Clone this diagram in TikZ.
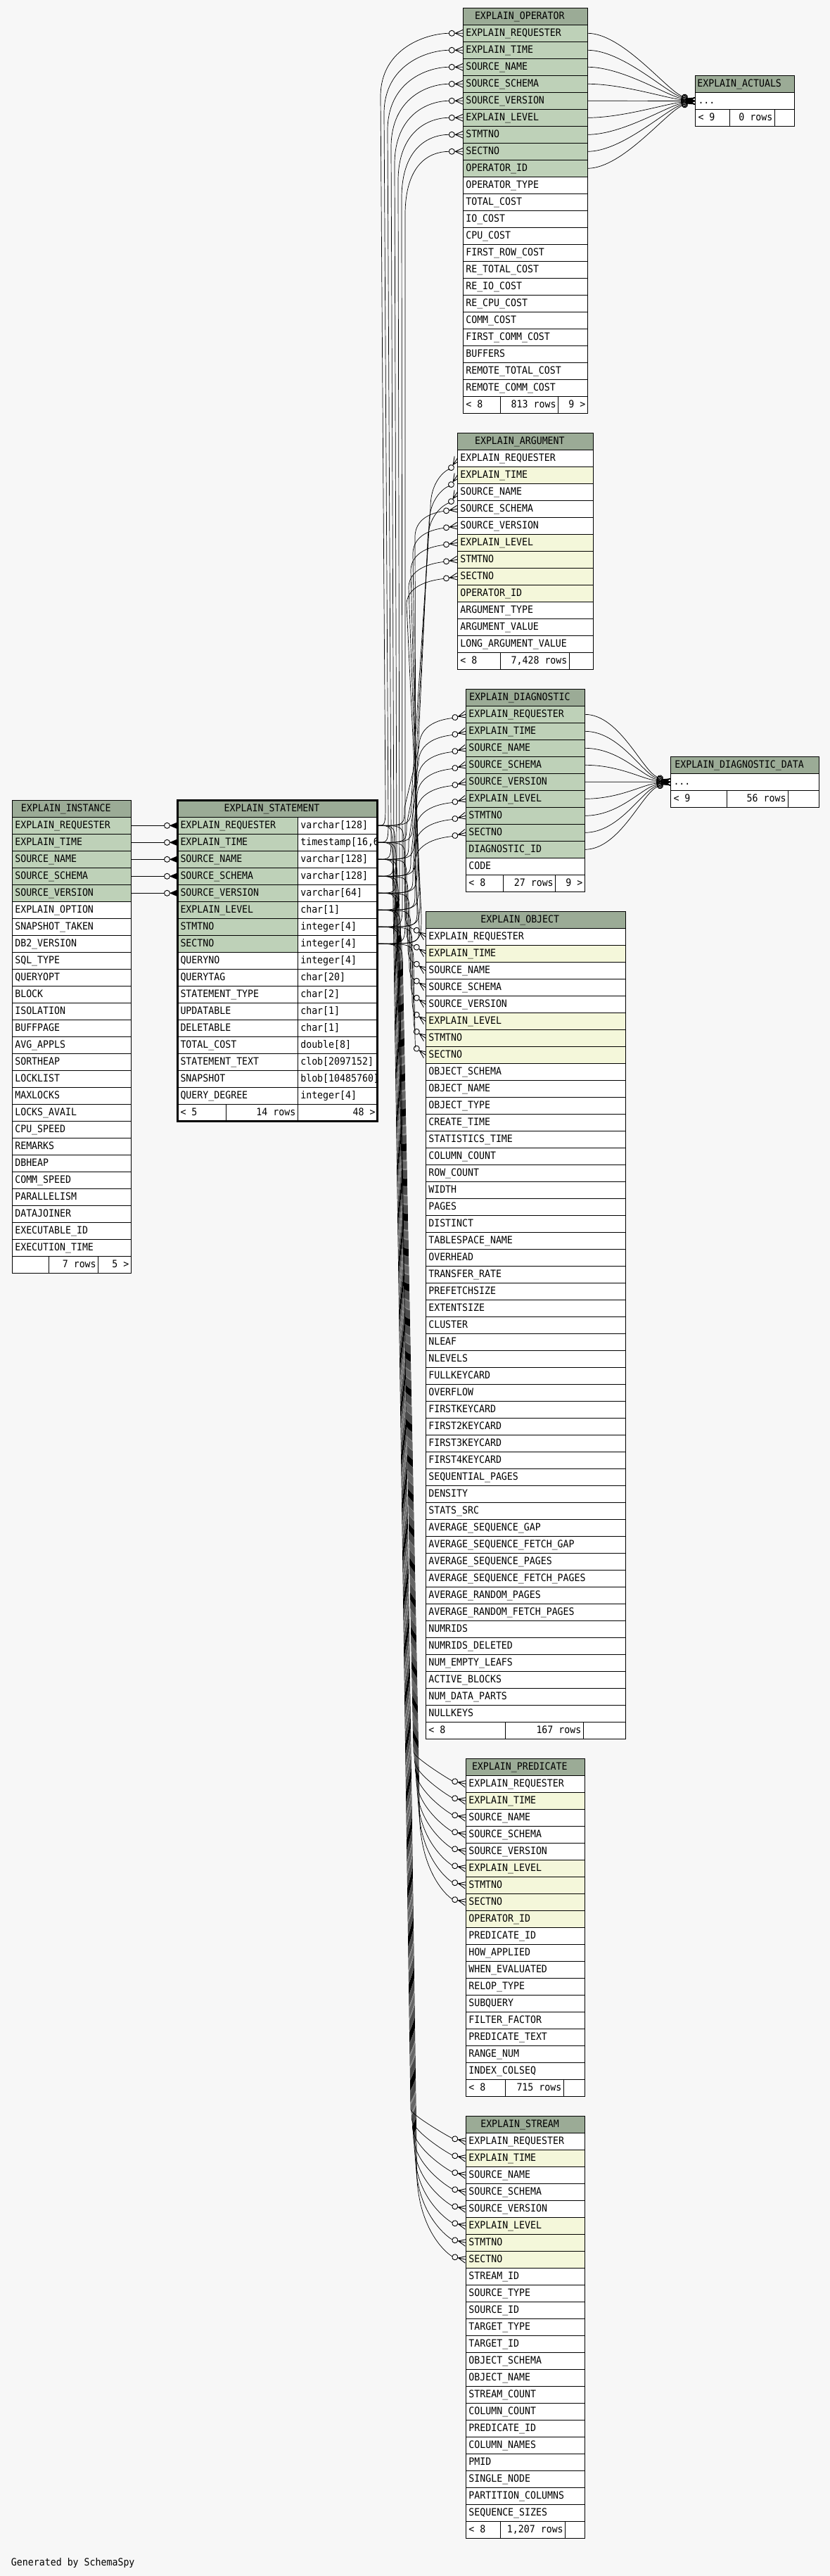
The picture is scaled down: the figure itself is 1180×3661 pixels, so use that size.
\documentclass[tikz,border=0pt]{standalone}
\usepackage{fontspec}
\newfontfamily\dbf[FakeStretch=0.92]{DejaVu Sans Mono}
\newcommand\dbfont{\dbf\fontsize{14.4pt}{16pt}\selectfont}
\usetikzlibrary{calc,arrows.meta}
\definecolor{hdrc}{HTML}{9BAB96}
\definecolor{pkc}{HTML}{BED1B8}
\definecolor{ixc}{HTML}{F4F7DA}
\definecolor{bgc}{HTML}{F7F7F7}
\pgfdeclarelayer{bgfill}
\pgfdeclarelayer{edges}
\pgfsetlayers{bgfill,edges,main}

\pgfdeclarearrow{
  name = crowo,
  parameters = {\the\pgflinewidth},
  setup code = {
    \pgfarrowssettipend{0pt}
    \pgfarrowssetbackend{-20pt}
    \pgfarrowssetlineend{-19.5pt}
    \pgfarrowsupperhullpoint{0pt}{5pt}
    \pgfarrowsupperhullpoint{-20pt}{4pt}
  },
  drawing code = {
    \pgfsetdash{}{0pt}
    \pgfsetroundjoin
    \pgfsetlinewidth{0.9pt}
    \pgfpathmoveto{\pgfqpoint{0pt}{5pt}}
    \pgfpathlineto{\pgfqpoint{-11pt}{0pt}}
    \pgfpathlineto{\pgfqpoint{0pt}{-5pt}}
    \pgfpathmoveto{\pgfqpoint{0pt}{0pt}}
    \pgfpathlineto{\pgfqpoint{-12pt}{0pt}}
    \pgfusepathqstroke
    \pgfpathcircle{\pgfqpoint{-16pt}{0pt}}{4pt}
    \pgfusepathqstroke
  }
}
\pgfdeclarearrow{
  name = crowof,
  parameters = {\the\pgflinewidth},
  setup code = {
    \pgfarrowssettipend{0pt}
    \pgfarrowssetbackend{-19pt}
    \pgfarrowssetlineend{-18.5pt}
    \pgfarrowsupperhullpoint{0pt}{5pt}
    \pgfarrowsupperhullpoint{-19pt}{4pt}
  },
  drawing code = {
    \pgfsetdash{}{0pt}
    \pgfsetlinewidth{0.9pt}
    \pgfsetfillcolor{black}
    \pgfpathmoveto{\pgfqpoint{0pt}{4.5pt}}
    \pgfpathlineto{\pgfqpoint{-10.5pt}{0pt}}
    \pgfpathlineto{\pgfqpoint{0pt}{-4.5pt}}
    \pgfpathclose
    \pgfusepathqfillstroke
    \pgfpathcircle{\pgfqpoint{-15pt}{0pt}}{4pt}
    \pgfusepathqstroke
  }
}

\tikzset{
  lbl/.style={font=\dbfont, inner sep=0pt, outer sep=0pt, text height=10.5pt, text depth=2pt},
  rowbox/.style={draw, line width=1pt, anchor=north west, minimum height=24pt,
    inner xsep=4pt, inner ysep=0pt, outer sep=0pt, text height=10.5pt, text depth=2pt,
    align=left, font=\dbfont},
  hdr/.style={draw, line width=1pt, fill=hdrc, anchor=north west, minimum height=24pt,
    inner sep=0pt, outer sep=0pt},
  fcell/.style={draw, line width=1pt, fill=white, anchor=north west, minimum height=24pt,
    inner sep=0pt, outer sep=0pt},
  fk/.style={draw, line width=0.7pt, -{crowo}},
  fkf/.style={draw, line width=0.8pt, -{crowof}},
}

% table: prefix, x, y, width, title, rows (text/colour)
\newcommand\mktable[6]{%
  \pgfmathsetmacro\tbw{#4-8}%
  \node[hdr, minimum width=#4pt] (#1-h) at (#2,#3) {};
  \node[lbl] (#1-ht) at ($(#1-h.center)+(-8,0)$) {#5};
  \foreach \rn/\rc [count=\ri from 0] in {#6}{%
    \node[rowbox, fill=\rc, minimum width=#4pt, text width=\tbw pt] (#1-\ri) at (#2,{#3+24*(\ri+1)}) {\rn};
  }%
}
% footer: prefix, x, y, width, split1, split2, left, middle, right
\newcommand\mkfoot[9]{%
  \pgfmathsetmacro\fwa{#5-#2}\pgfmathsetmacro\fwb{#6-#5}\pgfmathsetmacro\fwc{#2+#4-#6}%
  \node[fcell, minimum width=\fwa pt] (#1-fa) at (#2,#3) {};
  \node[fcell, minimum width=\fwb pt] (#1-fb) at (#5,#3) {};
  \node[fcell, minimum width=\fwc pt] (#1-fc) at (#6,#3) {};
  \node[lbl, anchor=west] (#1-fta) at ($(#1-fa.west)+(4,0)$) {#7};
  \node[lbl, anchor=east] (#1-ftb) at ($(#1-fb.east)+(-3,0)$) {#8};
  \node[lbl, anchor=east] (#1-ftc) at ($(#1-fc.east)+(-3,0)$) {#9};
}
% routed foreign key: src, dst, xa, dya(rel src), xb, dyb(rel dst), dyc(rel dst), dx, dy
\newcommand\fkroute[9]{%
  \draw[fk] let \p1=(#1.east), \p2=(#2.west) in
    (\p1) .. controls ({(#3)*1pt},\y1) .. ({(#3)*1pt},{\y1-(#4)*1pt})
    -- ({(#5)*1pt},{\y2-(#6)*1pt})
    .. controls ({(#5)*1pt},{\y2-(#7)*1pt}) and ({\x2-(#8)*1pt},{\y2-(#9)*1pt}) .. (\p2);
}
\def\tsv{timestamp[16,6]}
\def\tdots{...}

\begin{document}
\begin{tikzpicture}[x=1pt,y=-1pt]
\useasboundingbox (0,0) rectangle (1180,3661);
\begin{pgfonlayer}{bgfill}
\fill[bgc] (0,0) rectangle (1180,3661);
\end{pgfonlayer}

% ---------- EXPLAIN_OPERATOR
\mktable{op}{658.3}{11.3}{177}{EXPLAIN\_OPERATOR}{EXPLAIN\_REQUESTER/pkc, EXPLAIN\_TIME/pkc, SOURCE\_NAME/pkc, SOURCE\_SCHEMA/pkc, SOURCE\_VERSION/pkc, EXPLAIN\_LEVEL/pkc, STMTNO/pkc, SECTNO/pkc, OPERATOR\_ID/pkc, OPERATOR\_TYPE/white, TOTAL\_COST/white, IO\_COST/white, CPU\_COST/white, FIRST\_ROW\_COST/white, RE\_TOTAL\_COST/white, RE\_IO\_COST/white, RE\_CPU\_COST/white, COMM\_COST/white, FIRST\_COMM\_COST/white, BUFFERS/white, REMOTE\_TOTAL\_COST/white, REMOTE\_COMM\_COST/white}
\mkfoot{opf}{658.3}{563.3}{177}{711.4}{793.5}{< 8}{813 rows}{9 >}

% ---------- EXPLAIN_ACTUALS
\mktable{act}{988.5}{107.5}{141.3}{EXPLAIN\_ACTUALS}{\tdots/white}
\mkfoot{actf}{988.5}{155.5}{141.3}{1037.3}{1101.3}{< 9}{0 rows}{}

% ---------- EXPLAIN_ARGUMENT
\mktable{arg}{650.3}{615.3}{193.1}{EXPLAIN\_ARGUMENT}{EXPLAIN\_REQUESTER/white, EXPLAIN\_TIME/ixc, SOURCE\_NAME/white, SOURCE\_SCHEMA/white, SOURCE\_VERSION/white, EXPLAIN\_LEVEL/ixc, STMTNO/ixc, SECTNO/ixc, OPERATOR\_ID/ixc, ARGUMENT\_TYPE/white, ARGUMENT\_VALUE/white, LONG\_ARGUMENT\_VALUE/white}
\mkfoot{argf}{650.3}{927.3}{193.1}{711.4}{809.4}{< 8}{7,428 rows}{}

% ---------- EXPLAIN_DIAGNOSTIC
\mktable{dg}{662.3}{979.3}{169}{EXPLAIN\_DIAGNOSTIC}{EXPLAIN\_REQUESTER/pkc, EXPLAIN\_TIME/pkc, SOURCE\_NAME/pkc, SOURCE\_SCHEMA/pkc, SOURCE\_VERSION/pkc, EXPLAIN\_LEVEL/pkc, STMTNO/pkc, SECTNO/pkc, DIAGNOSTIC\_ID/pkc, CODE/white}
\mkfoot{dgf}{662.3}{1243.3}{169}{715.7}{789.7}{< 8}{27 rows}{9 >}

% ---------- EXPLAIN_DIAGNOSTIC_DATA
\mktable{dd}{953.5}{1075.3}{211.1}{EXPLAIN\_DIAGNOSTIC\_DATA}{\tdots/white}
\mkfoot{ddf}{953.5}{1123.3}{211.1}{1033.6}{1120.5}{< 9}{56 rows}{}

% ---------- EXPLAIN_INSTANCE
\mktable{i}{17.3}{1137.3}{169}{EXPLAIN\_INSTANCE}{EXPLAIN\_REQUESTER/pkc, EXPLAIN\_TIME/pkc, SOURCE\_NAME/pkc, SOURCE\_SCHEMA/pkc, SOURCE\_VERSION/pkc, EXPLAIN\_OPTION/white, SNAPSHOT\_TAKEN/white, DB2\_VERSION/white, SQL\_TYPE/white, QUERYOPT/white, BLOCK/white, ISOLATION/white, BUFFPAGE/white, AVG\_APPLS/white, SORTHEAP/white, LOCKLIST/white, MAXLOCKS/white, LOCKS\_AVAIL/white, CPU\_SPEED/white, REMARKS/white, DBHEAP/white, COMM\_SPEED/white, PARALLELISM/white, DATAJOINER/white, EXECUTABLE\_ID/white, EXECUTION\_TIME/white}
\mkfoot{if}{17.3}{1785.3}{169}{69.3}{139.7}{}{7 rows}{5 >}

% ---------- EXPLAIN_STATEMENT
\node[hdr, minimum width=284pt] (st-h) at (252.5,1137.3) {};
\node[lbl] (st-ht) at ($(st-h.center)+(-8,0)$) {EXPLAIN\_STATEMENT};
\foreach \rn/\rc [count=\ri from 0] in {EXPLAIN\_REQUESTER/pkc, EXPLAIN\_TIME/pkc, SOURCE\_NAME/pkc, SOURCE\_SCHEMA/pkc, SOURCE\_VERSION/pkc, EXPLAIN\_LEVEL/pkc, STMTNO/pkc, SECTNO/pkc, QUERYNO/white, QUERYTAG/white, STATEMENT\_TYPE/white, UPDATABLE/white, DELETABLE/white, TOTAL\_COST/white, STATEMENT\_TEXT/white, SNAPSHOT/white, QUERY\_DEGREE/white}{
  \node[rowbox, fill=\rc, minimum width=170.8pt, text width=162.8pt] (st-\ri) at (252.5,{1137.3+24*(\ri+1)}) {\rn};
}
\begin{scope}
\clip (423,1130) rectangle (535.5,1600);
\foreach \tp [count=\ri from 0] in {varchar[128], \tsv, varchar[128], varchar[128], varchar[64], char[1], integer[4], integer[4], integer[4], char[20], char[2], char[1], char[1], double[8], clob[2097152], blob[10485760], integer[4]}{
  \node[rowbox, fill=white, minimum width=113.2pt, text width=105.2pt] (stt-\ri) at (423.3,{1137.3+24*(\ri+1)}) {\tp};
}
\end{scope}
\mkfoot{stf}{252.5}{1569.3}{284}{321.5}{423.3}{< 5}{14 rows}{48 >}
\draw[line width=3.6pt] (st-h.north west) rectangle (stf-fc.south east);

% ---------- EXPLAIN_OBJECT
\mktable{ob}{605.3}{1295.5}{284}{EXPLAIN\_OBJECT}{EXPLAIN\_REQUESTER/white, EXPLAIN\_TIME/ixc, SOURCE\_NAME/white, SOURCE\_SCHEMA/white, SOURCE\_VERSION/white, EXPLAIN\_LEVEL/ixc, STMTNO/ixc, SECTNO/ixc, OBJECT\_SCHEMA/white, OBJECT\_NAME/white, OBJECT\_TYPE/white, CREATE\_TIME/white, STATISTICS\_TIME/white, COLUMN\_COUNT/white, ROW\_COUNT/white, WIDTH/white, PAGES/white, DISTINCT/white, TABLESPACE\_NAME/white, OVERHEAD/white, TRANSFER\_RATE/white, PREFETCHSIZE/white, EXTENTSIZE/white, CLUSTER/white, NLEAF/white, NLEVELS/white, FULLKEYCARD/white, OVERFLOW/white, FIRSTKEYCARD/white, FIRST2KEYCARD/white, FIRST3KEYCARD/white, FIRST4KEYCARD/white, SEQUENTIAL\_PAGES/white, DENSITY/white, STATS\_SRC/white, AVERAGE\_SEQUENCE\_GAP/white, AVERAGE\_SEQUENCE\_FETCH\_GAP/white, AVERAGE\_SEQUENCE\_PAGES/white, AVERAGE\_SEQUENCE\_FETCH\_PAGES/white, AVERAGE\_RANDOM\_PAGES/white, AVERAGE\_RANDOM\_FETCH\_PAGES/white, NUMRIDS/white, NUMRIDS\_DELETED/white, NUM\_EMPTY\_LEAFS/white, ACTIVE\_BLOCKS/white, NUM\_DATA\_PARTS/white, NULLKEYS/white}
\mkfoot{obf}{605.3}{2447.5}{284}{718.3}{829.3}{< 8}{167 rows}{}

% ---------- EXPLAIN_PREDICATE
\mktable{pr}{662.3}{2499.3}{169}{EXPLAIN\_PREDICATE}{EXPLAIN\_REQUESTER/white, EXPLAIN\_TIME/ixc, SOURCE\_NAME/white, SOURCE\_SCHEMA/white, SOURCE\_VERSION/white, EXPLAIN\_LEVEL/ixc, STMTNO/ixc, SECTNO/ixc, OPERATOR\_ID/ixc, PREDICATE\_ID/white, HOW\_APPLIED/white, WHEN\_EVALUATED/white, RELOP\_TYPE/white, SUBQUERY/white, FILTER\_FACTOR/white, PREDICATE\_TEXT/white, RANGE\_NUM/white, INDEX\_COLSEQ/white}
\mkfoot{prf}{662.3}{2955.3}{169}{718.3}{801.3}{< 8}{715 rows}{}

% ---------- EXPLAIN_STREAM
\mktable{sm}{662.4}{3007.3}{169.4}{EXPLAIN\_STREAM}{EXPLAIN\_REQUESTER/white, EXPLAIN\_TIME/ixc, SOURCE\_NAME/white, SOURCE\_SCHEMA/white, SOURCE\_VERSION/white, EXPLAIN\_LEVEL/ixc, STMTNO/ixc, SECTNO/ixc, STREAM\_ID/white, SOURCE\_TYPE/white, SOURCE\_ID/white, TARGET\_TYPE/white, TARGET\_ID/white, OBJECT\_SCHEMA/white, OBJECT\_NAME/white, STREAM\_COUNT/white, COLUMN\_COUNT/white, PREDICATE\_ID/white, COLUMN\_NAMES/white, PMID/white, SINGLE\_NODE/white, PARTITION\_COLUMNS/white, SEQUENCE\_SIZES/white}
\mkfoot{smf}{662.4}{3583.3}{169.4}{711.3}{803.7}{< 8}{1,207 rows}{}

\node[lbl, anchor=west] (gen) at (16,3642) {Generated by SchemaSpy};

% ---------- connectors
\begin{pgfonlayer}{edges}
\foreach \kk in {0,...,4}{
  \draw[fkf] (i-\kk.east) -- (st-\kk.west);
}
\foreach \kk in {0,...,8}{
  \pgfmathsetmacro\dy{(24*\kk-96.2)*0.15}
  \draw[fk] (op-\kk.east) .. controls +(50,0) and +(-40,\dy) .. (act-0.west);
  \draw[fk] (dg-\kk.east) .. controls +(50,0) and +(-40,\dy) .. (dd-0.west);
}
% to operator
\foreach \kk in {0,...,7}{
  \pgfmathsetmacro\xa{548+4*\kk}\pgfmathsetmacro\xb{541+5*\kk}
  \fkroute{stt-\kk}{op-\kk}{\xa}{-35}{\xb}{90}{20}{50}{0}
}
% to argument
\foreach \kk in {0,1,2}{
  \pgfmathsetmacro\xa{585+2*\kk}\pgfmathsetmacro\xb{612-2*\kk}
  \fkroute{stt-\kk}{arg-\kk}{\xa}{-40}{\xb}{70}{25}{8}{12}
}
\foreach \kk in {3,...,7}{
  \pgfmathsetmacro\xa{585+2*\kk}\pgfmathsetmacro\xb{590-3*(\kk-3)}
  \fkroute{stt-\kk}{arg-\kk}{\xa}{-40}{\xb}{40}{8}{25}{4}
}
% to diagnostic
\foreach \kk in {0,...,7}{
  \pgfmathsetmacro\xa{575+3*\kk}\pgfmathsetmacro\xb{596-\kk}
  \fkroute{stt-\kk}{dg-\kk}{\xa}{-25}{\xb}{45}{8}{22}{6}
}
% to object
\foreach \kk in {0,...,7}{
  \pgfmathsetmacro\xa{574+2*\kk}\pgfmathsetmacro\xb{576+2*\kk}
  \fkroute{stt-\kk}{ob-\kk}{\xa}{30}{\xb}{-30}{-12}{14}{-10}
}
% to predicate
\foreach \kk in {0,...,7}{
  \pgfmathsetmacro\xa{562+1.5*\kk}\pgfmathsetmacro\xb{588+1.2*\kk}\pgfmathsetmacro\db{-45.3-12*\kk}
  \fkroute{stt-\kk}{pr-\kk}{\xa}{40}{\xb}{\db}{-38}{22}{-5}
}
% to stream
\foreach \kk in {0,...,7}{
  \pgfmathsetmacro\xa{558+1.5*\kk}\pgfmathsetmacro\xb{584+1.2*\kk}\pgfmathsetmacro\db{-45.3-12*\kk}
  \fkroute{stt-\kk}{sm-\kk}{\xa}{45}{\xb}{\db}{-38}{22}{-5}
}
\end{pgfonlayer}
\end{tikzpicture}
\end{document}
